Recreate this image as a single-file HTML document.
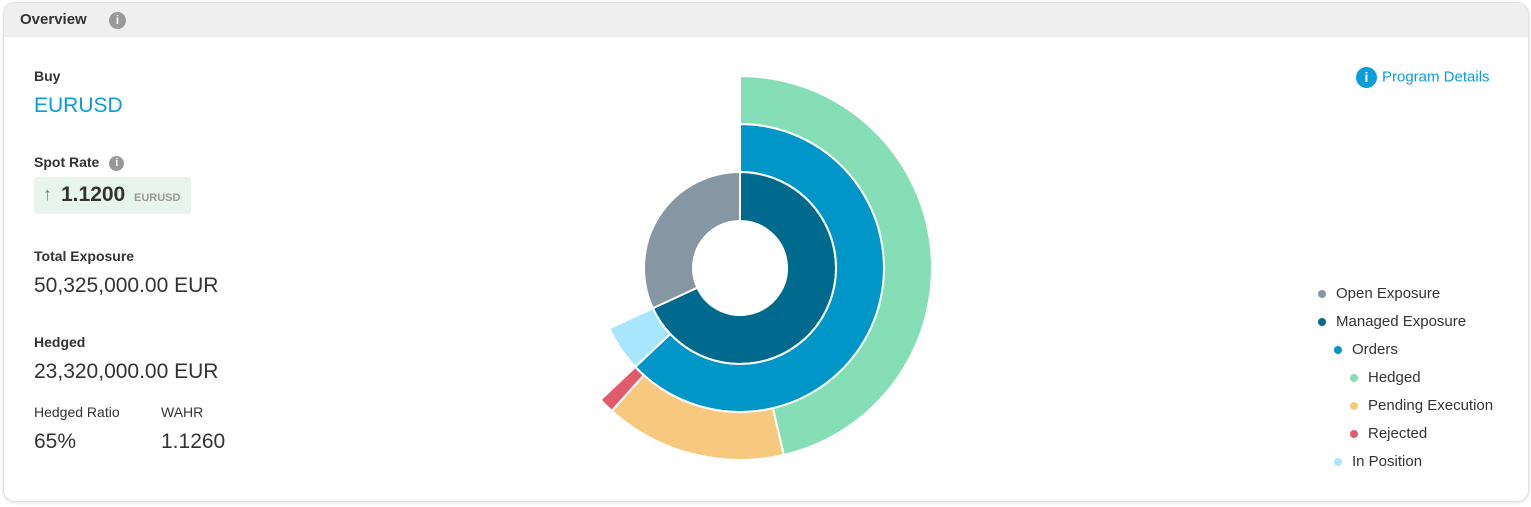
<!DOCTYPE html>
<html><head><meta charset="utf-8"><style>
body{margin:0;width:1531px;height:507px;background:#fff;font-family:"Liberation Sans",sans-serif;color:#333;overflow:hidden}
.card{position:absolute;left:3px;top:2px;width:1524px;height:498px;border:1px solid #e2e2e2;border-radius:12px;box-shadow:0 1px 3px rgba(0,0,0,.12);overflow:hidden}
.hdr{height:34px;background:#efefef;font-weight:bold;font-size:15px;line-height:34px;padding-left:16px;color:#333}
.ic{display:inline-block;width:17px;height:17px;border-radius:50%;background:#999;color:#fff;font-size:12px;text-align:center;line-height:17px;font-weight:bold;vertical-align:middle}
.t{position:absolute;white-space:nowrap}
.lab{font-weight:bold;font-size:14px;color:#333}
.val{font-size:21px;color:#333}
.leg{position:absolute;left:1318px;font-size:15px;color:#333;white-space:nowrap}
.leg i{display:inline-block;width:8px;height:8px;border-radius:50%;margin-right:10px;vertical-align:middle}
</style></head><body>
<div class="card">
<div class="hdr">Overview <span class="ic" style="margin-left:18px">i</span></div>
</div>
<div class="t lab" style="left:34px;top:68px">Buy</div>
<div class="t" style="left:34px;top:94px;font-size:21px;color:#0a9ddb">EURUSD</div>
<div class="t lab" style="left:34px;top:154px">Spot Rate <span class="ic" style="width:15px;height:15px;line-height:15px;font-size:11px;margin-left:6px">i</span></div>
<div class="t" style="left:34px;top:177px;width:157px;height:37px;background:#e8f5ee;border-radius:4px">
<span style="position:absolute;left:9px;top:7px;color:#2ea86b;font-size:18px;font-weight:bold">↑</span>
<span style="position:absolute;left:27px;top:6px;font-size:21px;font-weight:bold;color:#333">1.1200</span>
<span style="position:absolute;left:100px;top:15px;font-size:11px;font-weight:bold;color:#999">EURUSD</span></div>
<div class="t lab" style="left:34px;top:248px">Total Exposure</div>
<div class="t val" style="left:34px;top:274px">50,325,000.00 EUR</div>
<div class="t lab" style="left:34px;top:334px">Hedged</div>
<div class="t val" style="left:34px;top:360px">23,320,000.00 EUR</div>
<div class="t" style="left:34px;top:404px;font-size:14px">Hedged Ratio</div>
<div class="t val" style="left:34px;top:430px">65%</div>
<div class="t" style="left:161px;top:404px;font-size:14px">WAHR</div>
<div class="t val" style="left:161px;top:430px">1.1260</div>
<div class="t" style="left:1356px;top:67px;font-size:15px;color:#0a9ddb"><span class="ic" style="background:#0a9ddb;width:21px;height:21px;line-height:21px;font-size:14px;margin-right:5px">i</span>Program Details</div>
<div class="leg" style="top:285px"><i style="background:#8796a3"></i>Open Exposure</div>
<div class="leg" style="top:313px"><i style="background:#006a8e"></i>Managed Exposure</div>
<div class="leg" style="top:341px;left:1334px"><i style="background:#0096c8"></i>Orders</div>
<div class="leg" style="top:369px;left:1350px"><i style="background:#86deb7"></i>Hedged</div>
<div class="leg" style="top:397px;left:1350px"><i style="background:#f7c97e"></i>Pending Execution</div>
<div class="leg" style="top:425px;left:1350px"><i style="background:#e05c6c"></i>Rejected</div>
<div class="leg" style="top:453px;left:1334px"><i style="background:#a8e6fd"></i>In Position</div>
<svg id="chart" style="position:absolute;left:0;top:0" width="1531" height="507"></svg>
<script>
const total = 50325000;
const innerNames = ["managed-exposure","open-exposure"];
const innerValues = [34280000, 16045000];
const middleNames = ["orders","in-position"];
const middleValues = [31680000, 2600000];
const outerNames = ["hedged","pending-execution","rejected"];
const outerValues = [23320000, 7700000, 660000];
const innerColors=["#006a8e","#8796a3"],middleColors=["#0096c8","#a8e6fd"],outerColors=["#86deb7","#f7c97e","#e05c6c"];
const cx=740,cy=268;
const svg=document.getElementById('chart');
function ang(v){return v/total*2*Math.PI;}
function pt(r,a){return [cx+r*Math.sin(a),cy-r*Math.cos(a)];}
function arc(r0,r1,a0,a1){
  const l=(a1-a0)>Math.PI?1:0;
  const p1=pt(r1,a0),p2=pt(r1,a1),p3=pt(r0,a1),p4=pt(r0,a0);
  return `M${p1}A${r1},${r1} 0 ${l} 1 ${p2}L${p3}A${r0},${r0} 0 ${l} 0 ${p4}Z`;
}
function ring(names,vals,cols,r0,r1){
  let a=0;
  vals.forEach((v,i)=>{
    const a1=a+ang(v);
    const p=document.createElementNS('http://www.w3.org/2000/svg','path');
    p.setAttribute('d',arc(r0,r1,a,a1));
    p.setAttribute('fill',cols[i]);
    p.setAttribute('stroke','#fff');
    p.setAttribute('stroke-width','2');
    
    
    svg.appendChild(p);
    a=a1;
  });
}
ring(innerNames,innerValues,innerColors,47,96);
ring(middleNames,middleValues,middleColors,96,144);
ring(outerNames,outerValues,outerColors,144,192);
</script>
</body></html>
